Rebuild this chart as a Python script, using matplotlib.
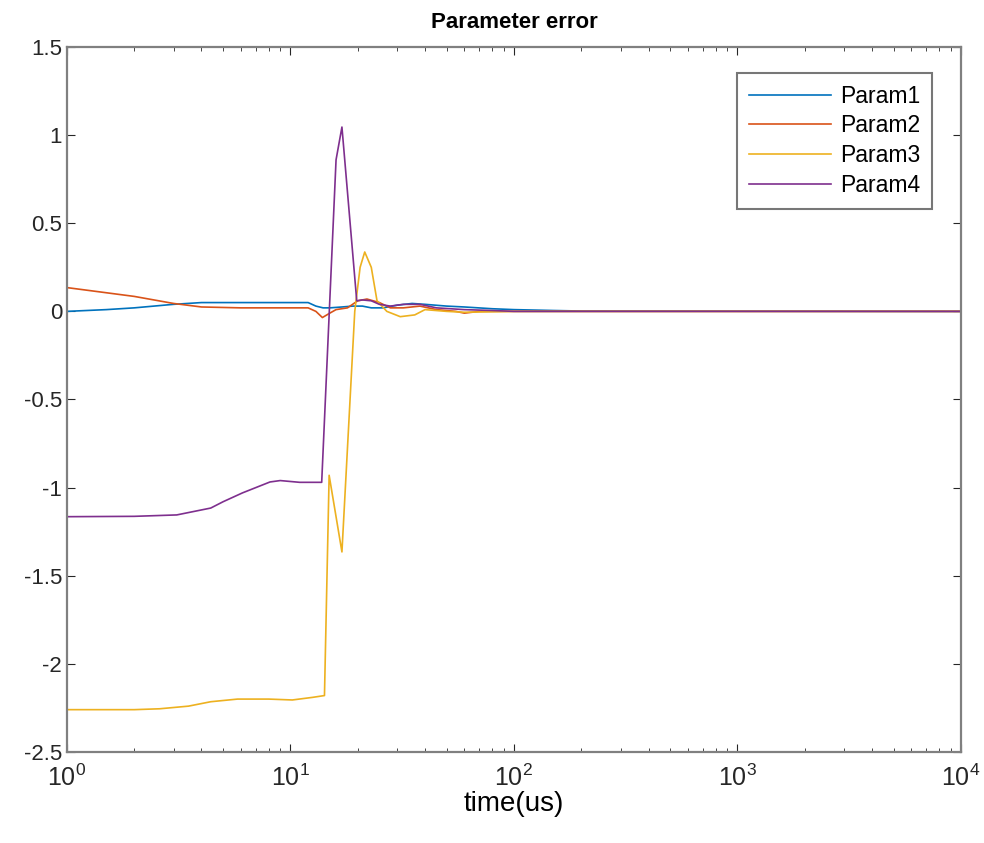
import numpy as np
import matplotlib
matplotlib.use("Agg")
import matplotlib.pyplot as plt

plt.rcParams['font.family'] = ['Liberation Sans', 'DejaVu Sans']

# values (time in us, error)
t1 = [1, 1.5, 2, 3, 4, 6, 10, 12, 13, 14, 15, 17, 19, 21, 23, 26, 30, 35, 40, 50, 60, 80, 100, 150, 200, 1e4]
p1 = [0.0, 0.01, 0.02, 0.04, 0.05, 0.05, 0.05, 0.05, 0.03, 0.02, 0.02, 0.025, 0.03, 0.03, 0.02, 0.02,
      0.035, 0.045, 0.04, 0.03, 0.025, 0.015, 0.01, 0.005, 0.002, 0.0]

t2 = [1, 2, 3, 4, 6, 10, 12, 13, 13.9, 15, 16, 18, 20, 22, 25, 28, 32, 38, 45, 55, 60, 70, 100, 200, 1e4]
p2 = [0.135, 0.085, 0.045, 0.025, 0.02, 0.02, 0.02, 0.0, -0.035, -0.01, 0.01, 0.02, 0.06, 0.07, 0.05,
      0.02, 0.02, 0.03, 0.01, 0.0, -0.01, 0.0, 0.0, 0.0, 0.0]

t3 = [1, 2, 2.6, 3.5, 4.4, 5.8, 8, 10.2, 12.6, 14.2, 14.9, 17.0, 19.4, 20.5, 21.5, 23, 24.4, 27, 31, 36,
      40, 50, 60, 100, 1e4]
p3 = [-2.26, -2.26, -2.255, -2.24, -2.215, -2.20, -2.20, -2.205, -2.19, -2.18, -0.93, -1.365, 0.0, 0.25,
      0.337, 0.25, 0.06, 0.0, -0.03, -0.02, 0.01, 0.0, -0.005, 0.0, 0.0]

t4 = [1, 2, 3.1, 4.4, 5, 6.1, 8.1, 9, 11, 13.8, 16.0, 17.0, 19.8, 21, 23, 25, 28, 32, 38, 45, 60, 80, 100, 1e4]
p4 = [-1.165, -1.163, -1.155, -1.116, -1.08, -1.03, -0.968, -0.96, -0.97, -0.97, 0.86, 1.046, 0.06, 0.065,
      0.06, 0.04, 0.03, 0.04, 0.04, 0.02, 0.01, 0.005, 0.0, 0.0]

labels = ["Param1", "Param2", "Param3", "Param4"]
colors = ["#0072BD", "#D95319", "#EDB120", "#7E2F8E"]

fig = plt.figure(figsize=(9.84, 8.43), dpi=100)
ax = fig.add_axes([0.068, 0.108, 0.9086, 0.8362])

for t, p, lab, c in zip([t1, t2, t3, t4], [p1, p2, p3, p4], labels, colors):
    ax.plot(t, p, color=c, lw=1.2, label=lab)

ax.set_xscale('log')
ax.set_xlim(1, 1e4)
ax.set_ylim(-2.5, 1.5)
ax.set_yticks(np.arange(-2.5, 1.51, 0.5))
ax.set_yticklabels(['-2.5', '-2', '-1.5', '-1', '-0.5', '0', '0.5', '1', '1.5'])

for s in ax.spines.values():
    s.set_color('#808080')
    s.set_linewidth(1.6)
ax.tick_params(which='both', direction='in', top=True, right=True, colors='#262626')
ax.tick_params(which='major', length=6, labelsize=16)
ax.tick_params(which='minor', length=3)
ax.tick_params(axis='x', which='major', labelsize=18, pad=9)

ax.set_title("Parameter error", fontsize=16, fontweight='bold', pad=14)
ax.set_xlabel("time(us)", fontsize=20, labelpad=0)

leg = ax.legend(loc='upper right', bbox_to_anchor=(0.9676, 0.963), borderaxespad=0, fontsize=16.5,
                frameon=True, fancybox=False, handlelength=3.6, handletextpad=0.4, labelspacing=0.3,
                borderpad=0.5)
leg.get_frame().set_edgecolor('#555555')
leg.get_frame().set_linewidth(1.5)

fig.savefig("out.png", dpi=100)
